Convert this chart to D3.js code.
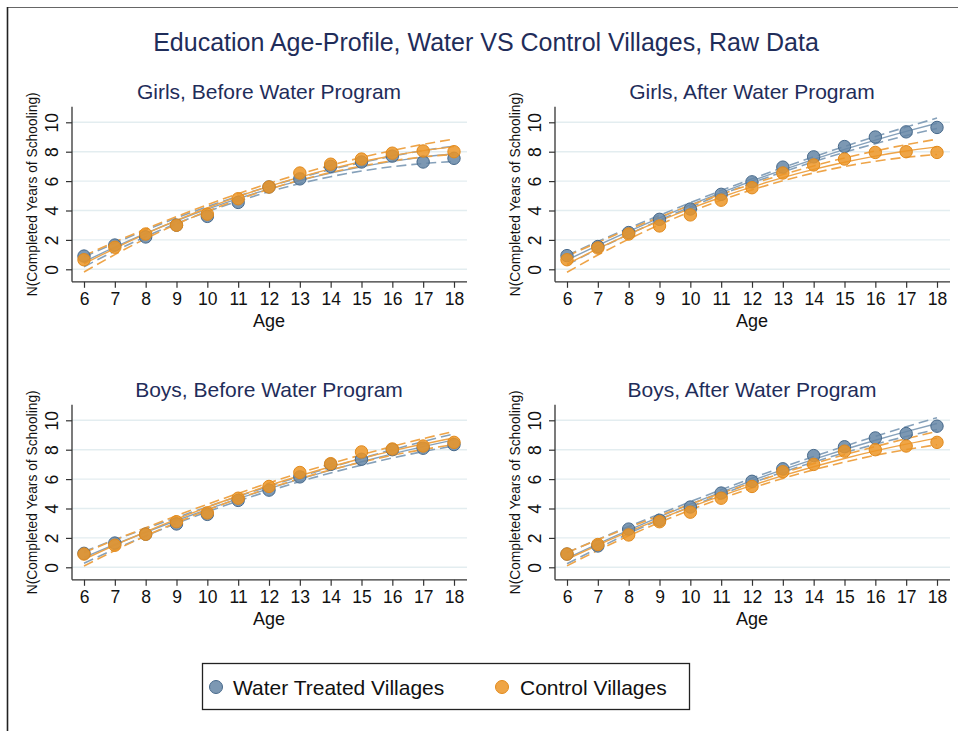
<!DOCTYPE html>
<html>
<head>
<meta charset="utf-8">
<script src="https://cdn.jsdelivr.net/npm/d3@7"></script>
<style>
  body { margin: 0; background: #fff; }
  svg text { font-family: "Liberation Sans", Arial, Helvetica, sans-serif; }
</style>
</head>
<body>
<div id="chart"></div>
<script>
// ages on the x axis and y tick values
const ages = [6, 7, 8, 9, 10, 11, 12, 13, 14, 15, 16, 17, 18];
const yTicks = [0, 2, 4, 6, 8, 10];

const mainTitle = 'Education Age-Profile, Water VS Control Villages, Raw Data';
const panelTitles = ['Girls, Before Water Program', 'Girls, After Water Program',
                     'Boys, Before Water Program', 'Boys, After Water Program'];
const seriesNames = ['Water Treated Villages', 'Control Villages'];

// mean completed years of schooling by age
const girlsBeforeWater   = [0.9, 1.65, 2.2, 3.0, 3.6, 4.55, 5.6, 6.15, 7.0, 7.3, 7.7, 7.3, 7.55];
const girlsBeforeControl = [0.65, 1.5, 2.4, 3.0, 3.75, 4.8, 5.6, 6.55, 7.15, 7.5, 7.9, 8.05, 8.0];
const girlsAfterWater    = [0.93, 1.55, 2.5, 3.4, 4.1, 5.1, 5.95, 6.95, 7.65, 8.35, 9.0, 9.35, 9.65];
const girlsAfterControl  = [0.65, 1.45, 2.4, 2.95, 3.7, 4.7, 5.55, 6.55, 7.1, 7.5, 7.95, 8.0, 7.95];
const boysBeforeWater    = [0.95, 1.65, 2.25, 2.95, 3.6, 4.55, 5.25, 6.15, 7.0, 7.35, 8.0, 8.1, 8.35];
const boysBeforeControl  = [0.9, 1.5, 2.25, 3.1, 3.7, 4.7, 5.5, 6.45, 7.05, 7.85, 8.05, 8.25, 8.5];
const boysAfterWater     = [0.9, 1.45, 2.6, 3.2, 4.1, 5.05, 5.85, 6.7, 7.6, 8.2, 8.8, 9.1, 9.6];
const boysAfterControl   = [0.9, 1.55, 2.2, 3.1, 3.75, 4.7, 5.5, 6.5, 7.0, 7.9, 8.0, 8.25, 8.5];

// half-width of the 95% CI around the quadratic fit, by age
const ciGirlsBeforeWater   = [0.33, 0.27, 0.22, 0.19, 0.17, 0.17, 0.18, 0.2, 0.24, 0.29, 0.36, 0.44, 0.52];
const ciGirlsBeforeControl = [0.55, 0.43, 0.33, 0.26, 0.22, 0.2, 0.2, 0.21, 0.24, 0.29, 0.35, 0.43, 0.52];
const ciGirlsAfterWater    = [0.32, 0.26, 0.21, 0.17, 0.15, 0.14, 0.14, 0.15, 0.17, 0.2, 0.24, 0.29, 0.35];
const ciGirlsAfterControl  = [0.55, 0.43, 0.33, 0.26, 0.22, 0.2, 0.2, 0.21, 0.24, 0.29, 0.35, 0.43, 0.52];
const ciBoysBeforeWater    = [0.4, 0.32, 0.25, 0.2, 0.17, 0.16, 0.16, 0.17, 0.19, 0.23, 0.28, 0.34, 0.41];
const ciBoysBeforeControl  = [0.45, 0.36, 0.28, 0.23, 0.2, 0.18, 0.18, 0.19, 0.21, 0.25, 0.3, 0.37, 0.45];
const ciBoysAfterWater     = [0.38, 0.3, 0.24, 0.19, 0.17, 0.16, 0.16, 0.17, 0.19, 0.22, 0.27, 0.33, 0.4];
const ciBoysAfterControl   = [0.45, 0.36, 0.28, 0.23, 0.2, 0.18, 0.18, 0.19, 0.21, 0.25, 0.3, 0.37, 0.45];

const panels = [
  { title: panelTitles[0], water: girlsBeforeWater, control: girlsBeforeControl, ciW: ciGirlsBeforeWater, ciC: ciGirlsBeforeControl },
  { title: panelTitles[1], water: girlsAfterWater,  control: girlsAfterControl,  ciW: ciGirlsAfterWater,  ciC: ciGirlsAfterControl },
  { title: panelTitles[2], water: boysBeforeWater,  control: boysBeforeControl,  ciW: ciBoysBeforeWater,  ciC: ciBoysBeforeControl },
  { title: panelTitles[3], water: boysAfterWater,   control: boysAfterControl,   ciW: ciBoysAfterWater,   ciC: ciBoysAfterControl }
];

const W = 958, H = 731;
const colors = {
  water:   { fill: '#6586a6', stroke: '#47698b', line: '#86a1ba' },
  control: { fill: '#ec9526', stroke: '#e28a1c', line: '#eea448' }
};

// least squares quadratic fit, evaluated at each age
function quadFit(xs, ys) {
  const c = 12;
  let S = [[0, 0, 0], [0, 0, 0], [0, 0, 0]], b = [0, 0, 0];
  xs.forEach((x0, i) => {
    const x = x0 - c, row = [1, x, x * x];
    for (let r = 0; r < 3; r++) {
      b[r] += row[r] * ys[i];
      for (let k = 0; k < 3; k++) S[r][k] += row[r] * row[k];
    }
  });
  // gaussian elimination
  const A = S.map((r, i) => r.concat([b[i]]));
  for (let i = 0; i < 3; i++) {
    for (let j = i + 1; j < 3; j++) {
      const f = A[j][i] / A[i][i];
      for (let k = i; k < 4; k++) A[j][k] -= f * A[i][k];
    }
  }
  const coef = [0, 0, 0];
  for (let i = 2; i >= 0; i--) {
    let s = A[i][3];
    for (let k = i + 1; k < 3; k++) s -= A[i][k] * coef[k];
    coef[i] = s / A[i][i];
  }
  return xs.map(x0 => { const x = x0 - c; return coef[0] + coef[1] * x + coef[2] * x * x; });
}

const svg = d3.select('#chart').append('svg')
  .attr('width', W).attr('height', H);

svg.append('rect').attr('width', W).attr('height', H).attr('fill', '#fff');

// frame of the screenshot
svg.append('line').attr('x1', 7).attr('x2', W).attr('y1', 7.5).attr('y2', 7.5)
  .attr('stroke', '#666').attr('stroke-width', 1);
svg.append('line').attr('x1', 7.5).attr('x2', 7.5).attr('y1', 7).attr('y2', H)
  .attr('stroke', '#222').attr('stroke-width', 1.6);

svg.append('text')
  .attr('x', 486).attr('y', 51)
  .attr('text-anchor', 'middle')
  .attr('font-size', 25)
  .attr('fill', '#1f2d5a')
  .text(mainTitle);

const layout = [
  { axisX: 72,  y0: 269.3 },
  { axisX: 555, y0: 269.3 },
  { axisX: 72,  y0: 567.3 },
  { axisX: 555, y0: 567.3 }
];

panels.forEach((p, i) => {
  const L = layout[i];
  const x = d3.scaleLinear().domain([6, 18]).range([L.axisX + 12, L.axisX + 382]);
  const y = d3.scaleLinear().domain([0, 10]).range([L.y0, L.y0 - 147]);
  const top = y(11.05), bottom = y(-0.85), right = L.axisX + 395;
  const g = svg.append('g');

  // grid
  g.selectAll('.grid').data(yTicks).enter().append('line')
    .attr('x1', L.axisX).attr('x2', right)
    .attr('y1', d => y(d)).attr('y2', d => y(d))
    .attr('stroke', '#e3edf0').attr('stroke-width', 1.4);

  // axes
  const xa = g.append('g').attr('transform', `translate(0,${bottom})`)
    .call(d3.axisBottom(x).tickValues(ages).tickSize(6).tickPadding(5));
  const ya = g.append('g').attr('transform', `translate(${L.axisX},0)`)
    .call(d3.axisLeft(y).tickValues(yTicks).tickSize(6));
  [xa, ya].forEach(a => {
    a.select('.domain').remove();
    a.selectAll('line').attr('stroke', '#333').attr('stroke-width', 1.2);
    a.selectAll('text').attr('font-size', 17.5).attr('fill', '#111')
      .attr('font-family', '"Liberation Sans", Arial, sans-serif');
  });
  ya.selectAll('text')
    .attr('x', 0).attr('dy', 0)
    .attr('text-anchor', 'middle')
    .attr('transform', 'translate(-14,0) rotate(-90)');
  g.append('line').attr('x1', L.axisX).attr('x2', L.axisX).attr('y1', top).attr('y2', bottom)
    .attr('stroke', '#333').attr('stroke-width', 1.3);
  g.append('line').attr('x1', L.axisX).attr('x2', right).attr('y1', bottom).attr('y2', bottom)
    .attr('stroke', '#333').attr('stroke-width', 1.3);

  // titles
  g.append('text').attr('x', x(12)).attr('y', top - 8)
    .attr('text-anchor', 'middle').attr('font-size', 21).attr('fill', '#1f2d5a')
    .text(p.title);
  g.append('text').attr('x', x(12)).attr('y', bottom + 45)
    .attr('text-anchor', 'middle').attr('font-size', 18).attr('fill', '#111')
    .text('Age');
  g.append('text')
    .attr('transform', `translate(${L.axisX - 35},${(top + bottom) / 2}) rotate(-90)`)
    .attr('text-anchor', 'middle').attr('font-size', 13.8).attr('fill', '#111')
    .text('N(Completed Years of Schooling)');

  // fits and confidence bands
  const line = d3.line().x(d => x(d[0])).y(d => y(d[1])).curve(d3.curveNatural);
  [['water', p.water, p.ciW], ['control', p.control, p.ciC]].forEach(([key, vals, ci]) => {
    const fit = quadFit(ages, vals);
    const c = colors[key];
    g.append('path').datum(ages.map((a, j) => [a, fit[j] + ci[j]])).attr('d', line)
      .attr('fill', 'none').attr('stroke', c.line).attr('stroke-width', 1.6).attr('stroke-dasharray', '10,5');
    g.append('path').datum(ages.map((a, j) => [a, fit[j] - ci[j]])).attr('d', line)
      .attr('fill', 'none').attr('stroke', c.line).attr('stroke-width', 1.6).attr('stroke-dasharray', '10,5');
    g.append('path').datum(ages.map((a, j) => [a, fit[j]])).attr('d', line)
      .attr('fill', 'none').attr('stroke', c.line).attr('stroke-width', 1.4);
  });

  // points
  [['water', p.water], ['control', p.control]].forEach(([key, vals]) => {
    const c = colors[key];
    g.selectAll('.pt-' + key).data(ages.map((a, j) => [a, vals[j]])).enter().append('circle')
      .attr('cx', d => x(d[0])).attr('cy', d => y(d[1])).attr('r', 6.2)
      .attr('fill', c.fill).attr('fill-opacity', 0.85)
      .attr('stroke', c.stroke).attr('stroke-width', 1);
  });
});

// legend
const lg = svg.append('g');
lg.append('rect').attr('x', 202.5).attr('y', 663.5).attr('width', 487).attr('height', 46)
  .attr('fill', '#fff').attr('stroke', '#222').attr('stroke-width', 1.3);
const legendItems = [
  { name: seriesNames[0], key: 'water', cx: 216, tx: 233 },
  { name: seriesNames[1], key: 'control', cx: 502, tx: 520 }
];
legendItems.forEach(it => {
  const c = colors[it.key];
  lg.append('circle').attr('cx', it.cx).attr('cy', 687).attr('r', 6.5)
    .attr('fill', c.fill).attr('fill-opacity', 0.85).attr('stroke', c.stroke);
  lg.append('text').attr('x', it.tx).attr('y', 695).attr('font-size', 21).attr('fill', '#111')
    .text(it.name);
});
</script>
</body>
</html>
